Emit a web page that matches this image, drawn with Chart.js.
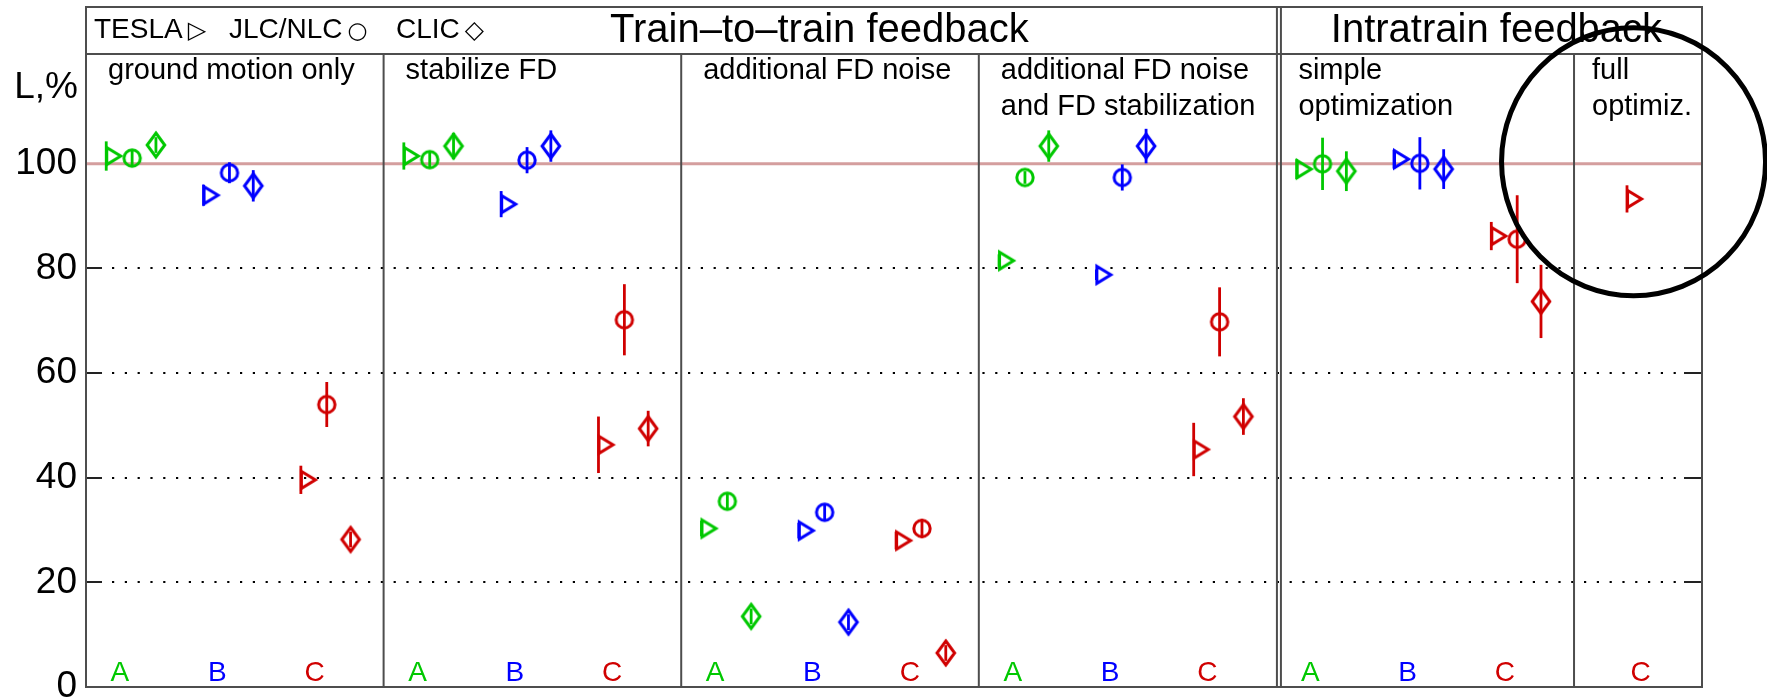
<!DOCTYPE html>
<html>
<head>
<meta charset="utf-8">
<title>Luminosity with feedback</title>
<script src="https://cdn.jsdelivr.net/npm/chart.js@4.4.1/dist/chart.umd.min.js"></script>
<style>
    html, body { margin: 0; padding: 0; background: #fff; }
    #wrap { width: 1767px; height: 700px; }
</style>
</head>
<body>
<div id="wrap"><canvas id="lumiChart" width="1767" height="700"></canvas></div>
<script>
// panels, sites and machines
const panelTitles = [
    ['ground motion only'],
    ['stabilize FD'],
    ['additional FD noise'],
    ['additional FD noise', 'and FD stabilization'],
    ['simple', 'optimization'],
    ['full', 'optimiz.']
];
const headerTitles = ['Train\u2013to\u2013train feedback', 'Intratrain feedback'];
const sites = ['A', 'B', 'C'];
const machines = ['TESLA', 'JLC/NLC', 'CLIC'];
const yTicks = [0, 20, 40, 60, 80, 100];
const gridValues = [20, 40, 60, 80];
const refLevel = 100;

// luminosity in % : index = panel * 3 + site (A, B, C)
const teslaL   = [101.5, 94.0, 39.6,  101.5, 92.3, 46.3,  30.3, 29.9, 28.0,  81.5, 78.8, 45.4,  99.0, 100.9, 86.2,  null, null, 93.3];
const teslaErr = [2.8, 2.0, 2.7,  2.6, 2.5, 5.4,  1.5, 1.5, 1.7,  1.2, 1.0, 5.1,  1.9, 1.8, 2.7,  null, null, 2.6];
const nlcL     = [101.1, 98.3, 54.0,  100.8, 100.7, 70.2,  35.5, 33.4, 30.3,  97.4, 97.4, 69.8,  100.0, 100.1, 85.6,  null, null, null];
const nlcErr   = [1.5, 2.0, 4.3,  1.5, 2.5, 6.8,  1.5, 1.5, 1.8,  1.2, 2.5, 6.6,  5.0, 5.0, 8.4,  null, null, null];
const clicL    = [103.6, 95.8, 28.2,  103.4, 103.4, 49.4,  13.5, 12.4, 6.5,  103.4, 103.4, 51.7,  98.6, 99.0, 73.7,  null, null, null];
const clicErr  = [1.5, 3.0, 1.5,  2.5, 3.0, 3.4,  1.5, 1.5, 1.5,  3.0, 3.3, 3.5,  3.8, 3.8, 7.0,  null, null, null];

const seriesL = [teslaL, nlcL, clicL];
const seriesErr = [teslaErr, nlcErr, clicErr];
const shapes = ['triangle', 'circle', 'diamond'];
const siteColors = ['#00c800', '#0000ff', '#d00000'];

const FONT = '"Liberation Sans", Arial, Helvetica, sans-serif';
const PANEL_W = 10;
const SITE_STEP = 3.27;
const shapeOffset = [0, 0.87, 1.67];

function siteOrigin(p, s) {
    if (p === 5) return 5 * PANEL_W + 1.78;   // narrow last panel, only site C
    return p * PANEL_W + 0.68 + s * SITE_STEP;
}

function makeMarker(shape, color) {
    const c = document.createElement('canvas');
    if (shape === 'triangle') { c.width = 40; c.height = 26; }
    else if (shape === 'circle') { c.width = 26; c.height = 26; }
    else { c.width = 26; c.height = 32; }
    const g = c.getContext('2d');
    g.strokeStyle = color;
    g.lineWidth = 3;
    g.beginPath();
    if (shape === 'triangle') {
        g.moveTo(20.5, 4.5); g.lineTo(34.5, 13); g.lineTo(20.5, 21.5); g.closePath();
    } else if (shape === 'circle') {
        g.arc(13, 13, 8.2, 0, Math.PI * 2);
    } else {
        g.moveTo(13, 4); g.lineTo(21.8, 16); g.lineTo(13, 28); g.lineTo(4.2, 16); g.closePath();
    }
    g.stroke();
    return c;
}

const markers = shapes.map(sh => siteColors.map(col => makeMarker(sh, col)));

const datasets = machines.map((name, m) => {
    const data = [];
    seriesL[m].forEach((v, i) => {
        if (v === null) return;
        const p = Math.floor(i / 3), s = i % 3;
        data.push({ x: siteOrigin(p, s) + shapeOffset[m], y: v, err: seriesErr[m][i], site: s });
    });
    return {
        label: name,
        data: data,
        pointStyle: ctx => markers[m][ctx.raw ? ctx.raw.site : 0],
        pointRadius: 10,
        showLine: false
    };
});

const framePlugin = {
    id: 'frame',
    beforeDatasetsDraw(chart) {
        const { ctx, chartArea: a, scales: { x, y } } = chart;
        const top = a.top - 47;
        const dbl = x.getPixelForValue(4 * PANEL_W);
        ctx.save();

        // dotted grid
        ctx.strokeStyle = '#000';
        ctx.lineWidth = 2.2;
        ctx.setLineDash([2.2, 10.6]);
        gridValues.forEach(v => {
            const py = Math.round(y.getPixelForValue(v));
            ctx.beginPath(); ctx.moveTo(a.left + 26, py); ctx.lineTo(a.right - 18, py); ctx.stroke();
        });
        ctx.setLineDash([]);

        // inner tick marks
        ctx.strokeStyle = '#222';
        ctx.lineWidth = 2;
        gridValues.forEach(v => {
            const py = Math.round(y.getPixelForValue(v));
            ctx.beginPath(); ctx.moveTo(a.left, py); ctx.lineTo(a.left + 16, py); ctx.stroke();
            ctx.beginPath(); ctx.moveTo(a.right - 18, py); ctx.lineTo(a.right, py); ctx.stroke();
        });

        // 100% reference line
        const ry = y.getPixelForValue(refLevel);
        ctx.strokeStyle = 'rgb(212,158,158)';
        ctx.lineWidth = 3;
        ctx.beginPath(); ctx.moveTo(a.left, ry); ctx.lineTo(a.right, ry); ctx.stroke();

        // frame, header row and panel dividers
        ctx.strokeStyle = '#4d4d4d';
        ctx.lineWidth = 2;
        ctx.strokeRect(a.left, top, a.right - a.left, a.bottom - top);
        ctx.beginPath(); ctx.moveTo(a.left, a.top); ctx.lineTo(a.right, a.top); ctx.stroke();
        [1, 2, 3, 5].forEach(p => {
            const px = x.getPixelForValue(p * PANEL_W);
            ctx.beginPath(); ctx.moveTo(px, a.top); ctx.lineTo(px, a.bottom); ctx.stroke();
        });
        [0.5, 4.5].forEach(d => {
            ctx.beginPath(); ctx.moveTo(dbl + d, top); ctx.lineTo(dbl + d, a.bottom); ctx.stroke();
        });

        // header: legend of machines + section titles
        ctx.fillStyle = '#000';
        ctx.textBaseline = 'alphabetic';
        ctx.textAlign = 'left';
        const legendX = [8, 143, 310];
        const legendSym = ['\u25B7', '\u25CB', '\u25C7'];
        const legendSymSize = [24, 23, 25];
        machines.forEach((name, m) => {
            ctx.font = '28px ' + FONT;
            ctx.fillText(name, a.left + legendX[m], a.top - 16);
            const w = ctx.measureText(name).width;
            ctx.font = legendSymSize[m] + 'px "DejaVu Sans", sans-serif';
            ctx.fillText(legendSym[m], a.left + legendX[m] + w + 5, a.top - 16);
        });
        ctx.font = '40px ' + FONT;
        ctx.fillText(headerTitles[0], a.left + 524, a.top - 12);
        ctx.textAlign = 'center';
        ctx.fillText(headerTitles[1], (dbl + 4.5 + a.right) / 2 + 5, a.top - 12);

        // y axis title
        ctx.textAlign = 'right';
        ctx.font = '37px ' + FONT;
        ctx.fillText('L,%', a.left - 8, a.top + 44);

        // panel titles
        ctx.textAlign = 'left';
        ctx.font = '29px ' + FONT;
        panelTitles.forEach((lines, p) => {
            let px = x.getPixelForValue(p * PANEL_W) + 22;
            if (p === 4) px = dbl + 22;
            if (p === 5) px -= 4;
            lines.forEach((t, k) => ctx.fillText(t, px, a.top + 25 + k * 36));
        });

        // site labels A, B, C
        ctx.textAlign = 'center';
        ctx.font = '28px ' + FONT;
        panelTitles.forEach((lines, p) => {
            sites.forEach((s, si) => {
                const i = p * 3 + si;
                if (seriesL.every(arr => arr[i] === null)) return;
                ctx.fillStyle = siteColors[si];
                ctx.fillText(s, x.getPixelForValue(siteOrigin(p, si) + 0.46), a.bottom - 6);
            });
        });

        // error bars
        ctx.lineWidth = 2.8;
        chart.data.datasets.forEach(ds => {
            ds.data.forEach(pt => {
                const px = x.getPixelForValue(pt.x);
                ctx.strokeStyle = siteColors[pt.site];
                ctx.beginPath();
                ctx.moveTo(px, y.getPixelForValue(pt.y - pt.err));
                ctx.lineTo(px, y.getPixelForValue(pt.y + pt.err));
                ctx.stroke();
            });
        });
        ctx.restore();
    },
    afterDatasetsDraw(chart) {
        // hand-drawn emphasis circle around the full optimization result
        const { ctx, scales: { x, y } } = chart;
        ctx.save();
        ctx.strokeStyle = '#000';
        ctx.lineWidth = 5;
        ctx.beginPath();
        ctx.ellipse(x.getPixelForValue(52.0), y.getPixelForValue(100.4), 132, 134, 0, 0, Math.PI * 2);
        ctx.stroke();
        ctx.restore();
    }
};

const ctx = document.getElementById('lumiChart').getContext('2d');
new Chart(ctx, {
    type: 'scatter',
    data: { datasets: datasets },
    options: {
        responsive: false,
        animation: false,
        devicePixelRatio: 1,
        layout: { padding: { top: 54, bottom: 13, left: 0, right: 65 }, autoPadding: false },
        plugins: { legend: { display: false }, tooltip: { enabled: false } },
        scales: {
            x: { type: 'linear', min: 0, max: 54.3, display: false },
            y: {
                type: 'linear',
                min: 0,
                max: 121,
                afterBuildTicks: scale => { scale.ticks = yTicks.map(v => ({ value: v })); },
                afterFit: scale => { scale.width = 86; scale.paddingTop = 0; scale.paddingBottom = 0; },
                grid: { display: false, drawTicks: false },
                border: { display: false },
                ticks: { color: '#000', padding: 9, font: { family: FONT, size: 37 } }
            }
        }
    },
    plugins: [framePlugin]
});
</script>
</body>
</html>
